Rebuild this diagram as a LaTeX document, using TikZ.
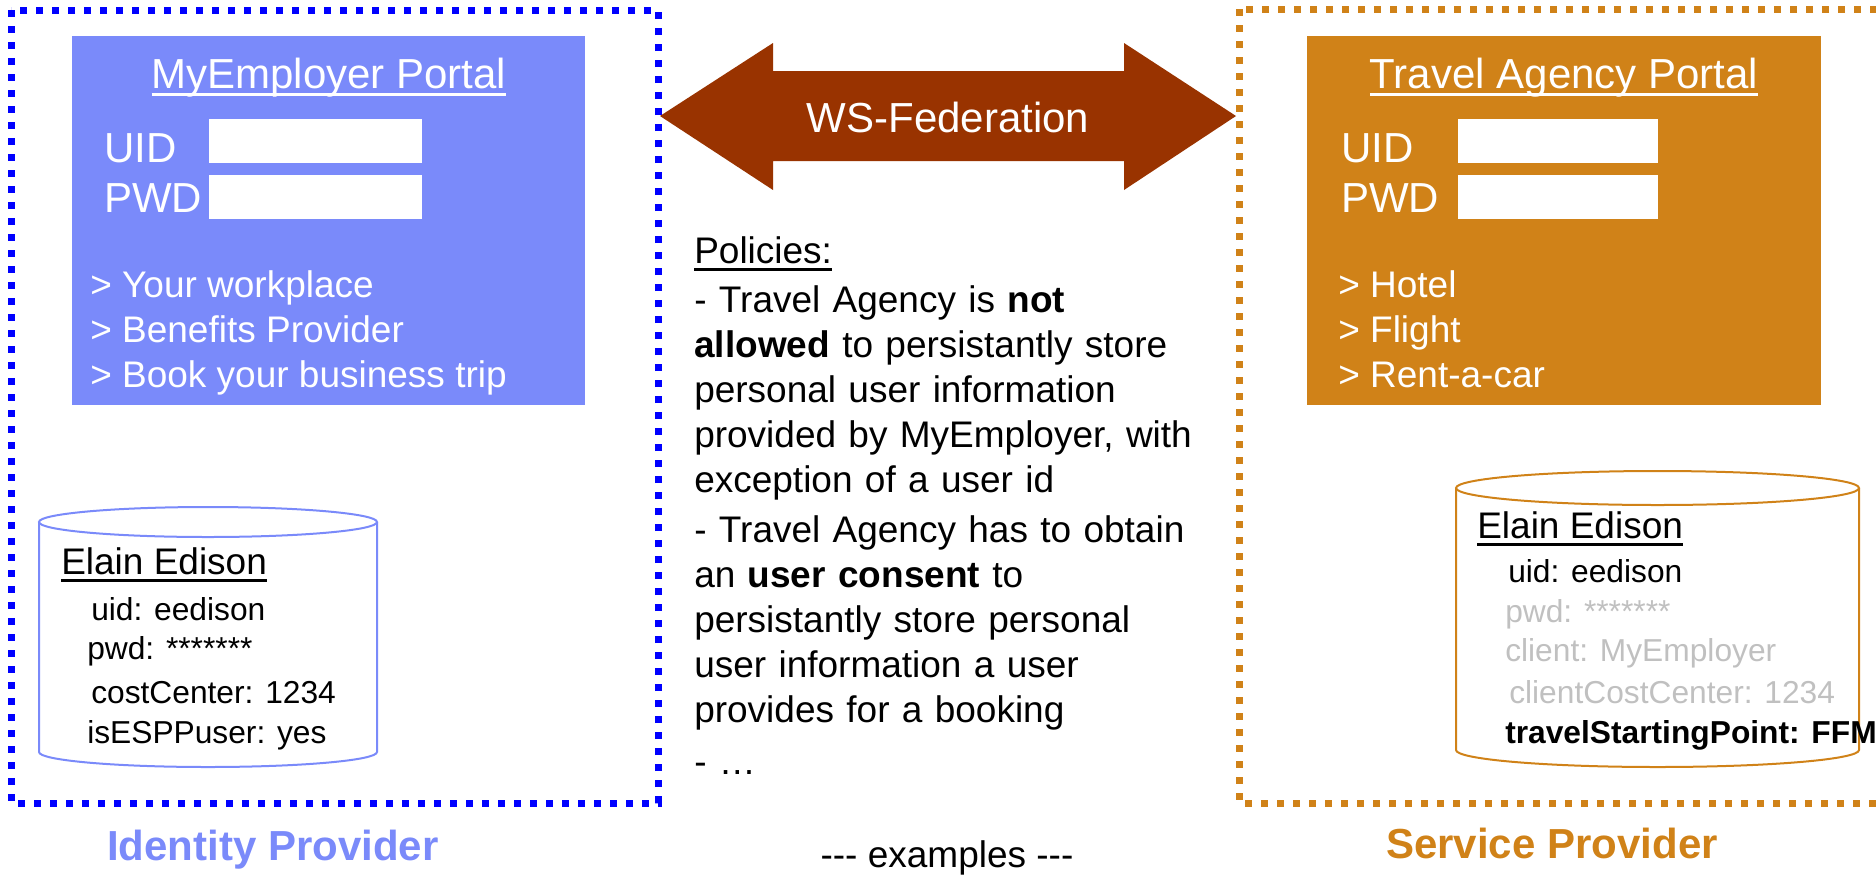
\documentclass[tikz,border=0pt]{standalone}
\usepackage{fontspec}
\setmainfont{Liberation Sans}[Ligatures=TeXOff]
\newcommand{\ulin}[1]{\setbox0\hbox{#1}\rlap{\rule[-6pt]{\wd0}{2.2pt}}\box0}
\definecolor{idpblue}{HTML}{7A8AFA}
\definecolor{dotblue}{HTML}{0000FF}
\definecolor{sporange}{HTML}{D08218}
\definecolor{fedbrown}{HTML}{993300}
\definecolor{greyed}{HTML}{C0C0C0}
\tikzset{
        big/.style={inner sep=0pt, anchor=base west, font=\fontsize{31.5}{36}\selectfont},
        mid/.style={inner sep=0pt, anchor=base west, font=\fontsize{27.75}{33.75}\selectfont},
        small/.style={inner sep=0pt, anchor=base west, font=\fontsize{23.8}{29}\selectfont},
        caption/.style={inner sep=0pt, anchor=base, font=\fontsize{31.5}{36}\selectfont\bfseries},
        portal/.style={rectangle, inner sep=0pt, minimum width=384.75pt, minimum height=276.75pt},
        field/.style={rectangle, fill=white, inner sep=0pt, minimum height=33pt},
        dotbox/.style={line width=5.25pt, dash pattern=on 5.25pt off 6.75pt},
        drum/.style={line width=1.5pt}
          }
\begin{document}
\begin{tikzpicture}[x=0.75pt, y=-0.75pt]
        \useasboundingbox (0,0) rectangle (1876,875);
        \clip (0,0) rectangle (1876,875);
        % identity provider
        \draw[dotbox, dotblue] (11,10) rectangle (658,803);
        \node[portal, fill=idpblue] (idpportal) at (328.5,220.5) {};
        \node[big, white, anchor=base] (idptitle) at (329,88) {\ulin{MyEmployer Portal}};
        \node[big, white] (idpuid) at (104,162) {UID};
        \node[big, white] (idppwd) at (104,212) {PWD};
        \node[field, minimum width=159.75pt] (idpuidf) at (315.5,141) {};
        \node[field, minimum width=159.75pt] (idppwdf) at (315.5,197) {};
        \foreach \t [count=\i] in {Your workplace, Benefits Provider, Book your business trip}
          \node[mid, white] (idpmenu\i) at (90,252+45*\i) {> \t};
        \draw[drum, idpblue] (39,522) -- (39,752) arc[start angle=180, end angle=0, x radius=169, y radius=15] -- (377,522);
        \draw[drum, idpblue] (208,522) ellipse [x radius=169, y radius=15];
        \node[mid] (idpuser) at (61,574) {\ulin{Elain Edison}};
        \node[small] (idpa1) at (91,620) {uid: eedison};
        \node[small] (idpa2) at (87,659) {pwd: *******};
        \node[small] (idpa3) at (91,703) {costCenter: 1234};
        \node[small] (idpa4) at (87,743) {isESPPuser: yes};
        \node[caption, idpblue] (idplabel) at (273,860) {Identity Provider};
        % federation
        \fill[fedbrown] (660,116) -- (773,43) -- (773,71) -- (1124,71) -- (1124,43) -- (1236,116)
          -- (1124,190) -- (1124,161) -- (773,161) -- (773,190) -- cycle;
        \node[big, white, anchor=base] (fed) at (948,132) {WS-Federation};
        \node[mid, text width=450pt, align=left] (policies) at (694,263) {\ulin{Policies:}\\[3.5pt]
          - Travel Agency is \textbf{not}\\
          \textbf{allowed} to persistantly store\\
          personal user information\\
          provided by MyEmployer, with\\
          exception of a user id\\[3.5pt]
          - Travel Agency has to obtain\\
          an \textbf{user consent} to\\
          persistantly store personal\\
          user information a user\\
          provides for a booking\\[5pt]
          - …};
        \node[mid, anchor=base] (examples) at (947,867) {--- examples ---};
        % service provider
        \draw[dotbox, sporange] (1239,9) rectangle (1900,803);
        \node[portal, fill=sporange, minimum width=385.5pt] (spportal) at (1564,220.5) {};
        \node[big, white, anchor=base] (sptitle) at (1564,88) {\ulin{Travel Agency Portal}};
        \node[big, white] (spuid) at (1341,162) {UID};
        \node[big, white] (sppwd) at (1341,212) {PWD};
        \node[field, minimum width=150pt] (spuidf) at (1558,141) {};
        \node[field, minimum width=150pt] (sppwdf) at (1558,197) {};
        \foreach \t [count=\i] in {Hotel, Flight, Rent-a-car}
          \node[mid, white] (spmenu\i) at (1338,252+45*\i) {> \t};
        \draw[drum, sporange] (1456,488) -- (1456,750) arc[start angle=180, end angle=0, x radius=201.5, y radius=17] -- (1859,488);
        \draw[drum, sporange] (1657.5,488) ellipse [x radius=201.5, y radius=17];
        \node[mid] (spuser) at (1477,538) {\ulin{Elain Edison}};
        \node[small] (spa1) at (1508,582) {uid: eedison};
        \node[small, greyed] (spa2) at (1505,622) {pwd: *******};
        \node[small, greyed] (spa3) at (1505,661) {client: MyEmployer};
        \node[small, greyed] (spa4) at (1509,703) {clientCostCenter: 1234};
        \node[small, font=\fontsize{23.8}{29}\selectfont\bfseries] (spa5) at (1505,743) {travelStartingPoint: FFM};
        \node[caption, sporange] (splabel) at (1552,858) {Service Provider};
      \end{tikzpicture}
\end{document}
